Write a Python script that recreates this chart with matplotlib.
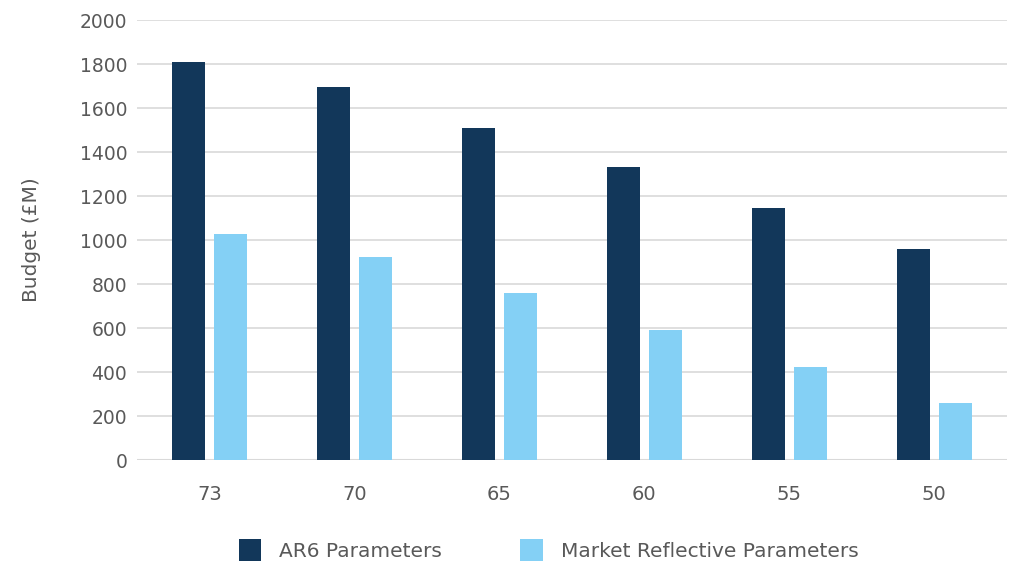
import matplotlib.pyplot as plt
import numpy as np

plt.rcParams['font.family'] = ['DejaVu Sans']

categories = ['73', '70', '65', '60', '55', '50']
ar6 = [1810, 1695, 1510, 1330, 1145, 958]
market = [1028, 925, 760, 592, 424, 258]

dark = '#12375a'
light = '#84d0f5'
text_col = '#595959'

fig = plt.figure(figsize=(10.16, 5.65), dpi=100)
ax = fig.add_axes([0.1348, 0.1858, 0.8562, 0.7788])

x = np.arange(len(categories))
w = 0.227
off = 0.145
ax.bar(x - off, ar6, width=w, color=dark, label='AR6 Parameters', zorder=3)
ax.bar(x + off, market, width=w, color=light, label='Market Reflective Parameters', zorder=3)

ax.set_xlim(-0.5, len(categories) - 0.5)
ax.set_ylim(0, 2000)
ax.set_yticks(range(0, 2001, 200))
ax.set_xticks(x)
ax.set_xticklabels(categories)
ax.yaxis.grid(True, color='#d9d9d9', linewidth=1.2, zorder=0)
for s in ['top', 'right', 'left', 'bottom']:
    ax.spines[s].set_visible(False)
ax.axhline(0, color='#d9d9d9', linewidth=1.5, zorder=2)
ax.tick_params(axis='both', length=0, colors=text_col)
ax.tick_params(axis='x', pad=18, labelsize=14)
ax.tick_params(axis='y', pad=7, labelsize=13.5)
ax.set_ylabel('Budget (£M)', fontsize=14.5, color=text_col, labelpad=28)

leg = fig.legend(loc='center', bbox_to_anchor=(0.54, 1 - 550 / 565), ncol=2,
                 frameon=False, fontsize=14.5, handlelength=1.1, handleheight=1.3,
                 columnspacing=3.9, handletextpad=0.9)
for t in leg.get_texts():
    t.set_color(text_col)

fig.savefig('out.png', dpi=100)
